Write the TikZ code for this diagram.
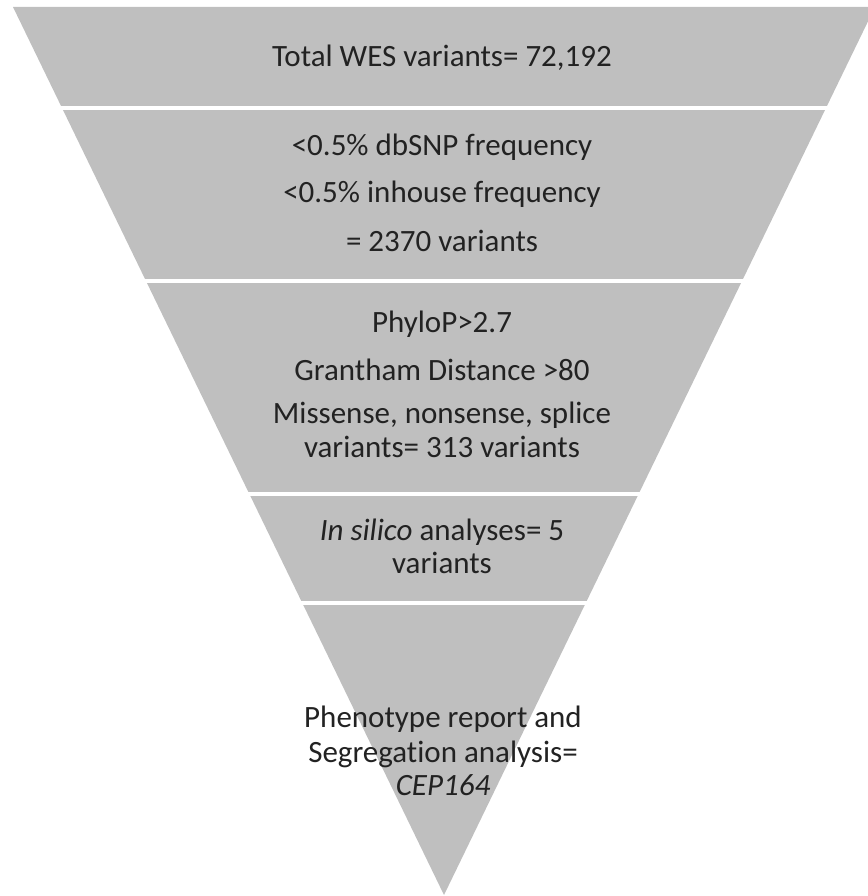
\documentclass[tikz,border=0pt]{standalone}
\usepackage{fontspec}
\setmainfont{Carlito}[Ligatures={NoCommon}]
\definecolor{band}{HTML}{BFBFBF}
\definecolor{txt}{HTML}{222222}
\begin{document}
\begin{tikzpicture}[x=1pt,y=-1pt,
  lbl/.style={anchor=base, text=txt, font=\fontsize{31}{36}\selectfont, inner sep=0pt},
  gap/.style={white, line width=4pt}]
\useasboundingbox (0,0) rectangle (867,896);
\fill[band] (13,7) -- (875,7) -- (444,895) -- cycle;
\foreach \y in {108,280.5,494,603} \draw[gap] (0,\y) -- (900,\y);
\node[lbl] (t1) at (442,67) {Total WES variants= 72,192};
\node[lbl] (t2a) at (442,156) {<0.5\% dbSNP frequency};
\node[lbl] (t2b) at (442,203) {<0.5\% inhouse frequency};
\node[lbl] (t2c) at (442,251) {= 2370 variants};
\node[lbl] (t3a) at (442,332) {PhyloP>2.7};
\node[lbl] (t3b) at (442,380) {Grantham Distance >80};
\node[lbl] (t3c) at (442,423) {Missense, nonsense, splice};
\node[lbl] (t3d) at (442,457) {variants= 313 variants};
\node[lbl] (t4a) at (442,540) {\textit{In silico} analyses= 5};
\node[lbl] (t4b) at (442,573) {variants};
\node[lbl] (t5a) at (443,727) {Phenotype report and};
\node[lbl] (t5b) at (443,762) {Segregat\kern0pt ion analysis=};
\node[lbl] (t5c) at (443,795) {\textit{CEP164}};
\end{tikzpicture}
\end{document}
